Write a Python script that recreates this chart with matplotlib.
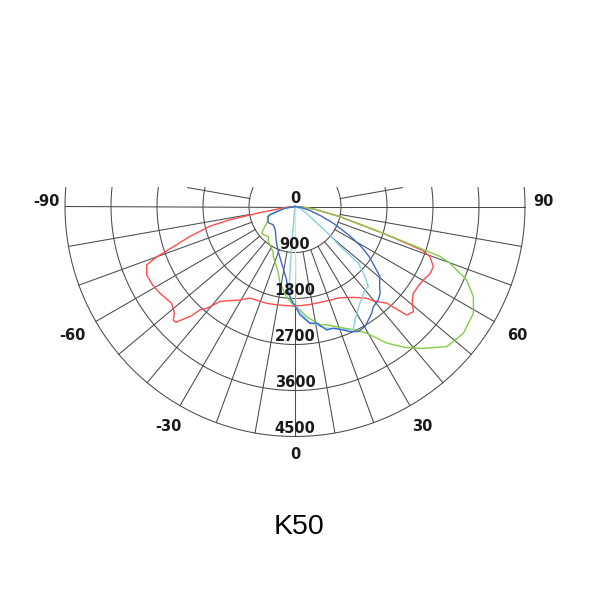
import numpy as np
import matplotlib
matplotlib.use("Agg")
import matplotlib.pyplot as plt

# ---- data (angle in degrees, luminous intensity in cd) ----
red_deg = [-90, -85, -81, -80, -78.5, -77, -74, -71.7, -70, -68.5, -65.2, -61, -57.3, -51.9,
           -48.5, -47, -45.8, -43.5, -42.6, -40.9, -38.3, -35, -30.5, -26.2, -16.3, -10.5,
           0, 8, 16.6, 26.2, 33, 38, 40, 43.5, 45.8, 48.4, 51, 53.7, 57, 60.2, 63.5, 66.5,
           69.6, 71, 73.1, 77.2, 82, 86, 90]
red_cd = [0, 150, 430, 700, 1300, 1700, 2150, 2507, 2879, 3120, 3197, 3180, 3141, 3068,
          3150, 3256, 3250, 2950, 2746, 2637, 2368, 2250, 2123, 1997, 1974, 1957,
          1950, 1940, 1943, 1990, 2120, 2277, 2420, 2607, 3047, 3098, 2950, 2871, 2870, 2894, 2950, 2952,
          2818, 2650, 1806, 903, 400, 150, 0]

green_deg = [-90, -80, -70, -63.5, -57, -53.7, -51.3, -47, -41.7, -37, -30, -25, -23.4, -15,
             -11.1, -5.3, -2, 0, 2.8, 6.1, 11.9, 15.2, 21.7, 26.5, 29.5, 33.9, 38, 42.1, 47.3,
             53, 59.1, 63.2, 66.8, 69.9, 71, 71.4, 73.1, 77.2, 82, 86, 90]
green_cd = [0, 250, 580, 584, 700, 770, 834, 820, 786, 864, 930, 1006, 1070, 1300,
            1527, 1773, 1892, 1947, 2024, 2168, 2366, 2400, 2560, 2701, 2847, 3220, 3500, 3742, 4042,
            4124, 4067, 3910, 3655, 3230, 3002, 2700, 1806, 903, 400, 150, 0]

blue_deg = [-90, -80, -72, -69.5, -62, -58.8, -50, -40, -29, -20, -13, -6.5, -4.4, -2, 0,
            2.6, 7.3, 10.5, 14.4, 17.5, 21.4, 23.7, 26.9, 30.3, 33, 35.7, 38, 41.8, 44.5, 47,
            50.5, 53, 56, 59, 62, 66, 70, 75, 82, 90]
blue_cd = [0, 200, 515, 558, 600, 611, 556, 600, 760, 950, 1150, 1448, 1700, 1850, 1947,
           2120, 2305, 2320, 2495, 2495, 2595, 2673, 2742, 2718, 2640, 2571, 2489, 2447, 2375, 2263,
           2153, 1950, 1750, 1500, 1200, 850, 550, 300, 100, 0]

lblue_deg = [-90, -10, -6, -5, -4.5, -4, -3, 0, 3, 7, 14, 21, 25.3, 27.9, 33.9, 40, 42.5,
             45, 48.2, 48.6, 51, 54, 60, 70, 90]
lblue_cd = [0, 0, 150, 600, 1200, 1600, 1750, 1947, 2080, 2280, 2450, 2580, 2669, 2509, 2278, 2130, 2124,
            1937, 1662, 1178, 800, 443, 250, 100, 0]

pale_deg = [-90, 0, 0.6, 1.0]
pale_cd = [0, 0, 1900, 1947]

ring_values = [900, 1800, 2700, 3600, 4500]
radial_labels = ["0", "900", "1800", "2700", "3600", "4500"]
angle_ticks = [-90, -60, -30, 0, 30, 60, 90]
title = "K50"

# ---- figure ----
fig = plt.figure(figsize=(6, 6), dpi=100)
cx, cy, R = 295.0, 206.5, 230.0   # centre and outer radius in pixels
ax = fig.add_axes([(cx - R) / 600, (600 - cy - R) / 600, 2 * R / 600, 2 * R / 600],
                  projection="polar")
ax.set_theta_zero_location("S")
ax.set_theta_direction(1)
rmax = ring_values[-1]
ax.set_ylim(0, rmax)
ax.grid(False)
ax.set_xticks([])
ax.set_yticks([])
ax.spines["polar"].set_visible(False)
ax.patch.set_alpha(0)

gcol = "#4a4a4a"
glw = 0.75
h = 370.0  # visible height of grid above the horizontal line (data units)

# rings
for rv in ring_values:
    ext = np.degrees(np.arcsin(min(h / rv, 1.0)))
    th = np.radians(np.linspace(-90 - ext, 90 + ext, 400))
    ax.plot(th, np.full_like(th, rv), color=gcol, lw=glw, zorder=1, clip_on=False)

# spokes every 10 degrees
for a in range(-80, 81, 10):
    ax.plot([np.radians(a)] * 2, [ring_values[0], rmax], color=gcol, lw=glw, zorder=1, clip_on=False)
for a in (-90, 90):
    ax.plot([np.radians(a)] * 2, [0, rmax], color=gcol, lw=glw, zorder=1, clip_on=False)
for a in (-100, 100):
    r_end = h / np.sin(np.radians(10))
    ax.plot([np.radians(a)] * 2, [ring_values[0], r_end], color=gcol, lw=glw, zorder=1, clip_on=False)

# curves
def draw(deg, cd, color, lw=1.0, z=3):
    ax.plot(np.radians(deg), cd, color=color, lw=lw, zorder=z, solid_joinstyle="round", clip_on=False)

draw(pale_deg, pale_cd, "#cfe8bb", 0.9, 2)
draw(red_deg, red_cd, "#ff4d4d", 1.0, 3)
draw(green_deg, green_cd, "#86cc48", 1.0, 4)
draw(lblue_deg, lblue_cd, "#86d2e2", 1.0, 5)
draw(blue_deg, blue_cd, "#3d68c6", 1.0, 6)

# radial labels (along the 0 degree direction)
tfont = dict(family="DejaVu Sans", fontsize=10.5, fontweight="bold", color="#1a1a1a")
for rv, lab in zip([0] + ring_values, radial_labels):
    ax.annotate(lab, xy=(0, rv), xytext=(0, 8), textcoords="offset pixels",
                ha="center", va="center", zorder=10, **tfont)

# angle labels
label_r = {-90: 4860, -60: 5030, -30: 4960, 0: 4860, 30: 4960, 60: 5030, 90: 4860}
for a in angle_ticks:
    aa = a
    if abs(a) == 90:
        aa = a * 91.1 / 90
    ax.text(np.radians(aa), label_r[a], str(a), ha="center", va="center",
            clip_on=False, **tfont)

fig.text(299.5 / 600, 1 - 527 / 600, title, ha="center", va="center",
         family="Liberation Sans", fontsize=20.5, color="black")

fig.savefig("out.png", dpi=100, facecolor="white")
